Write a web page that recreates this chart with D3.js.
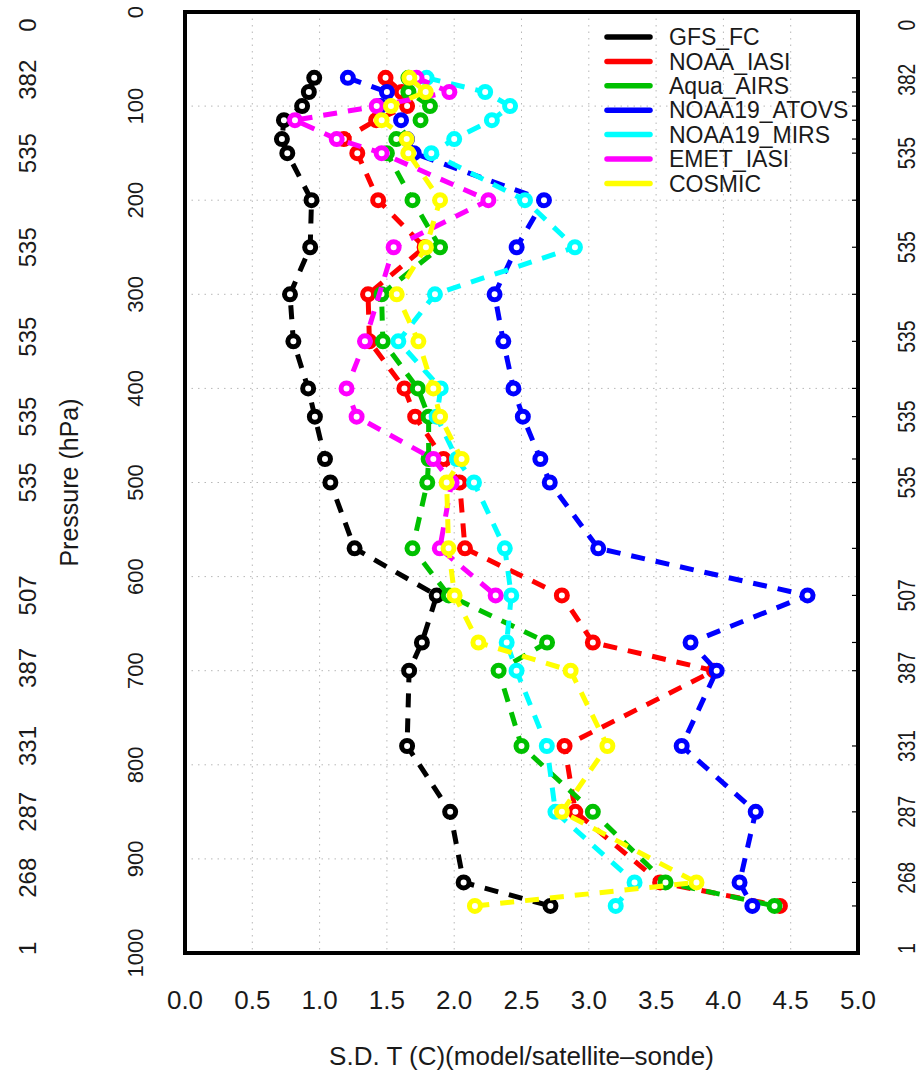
<!DOCTYPE html>
<html>
<head>
<meta charset="utf-8">
<script src="https://cdn.jsdelivr.net/npm/d3@7/dist/d3.min.js"></script>
<style>
  html, body { margin: 0; padding: 0; background: #fff; }
  svg { display: block; }
  text { font-family: "Liberation Sans", Arial, Helvetica, sans-serif; fill: #1a1a1a; }
</style>
</head>
<body>
<svg id="chart" width="922" height="1074"></svg>
<script>
// Pressure levels (hPa) at which each profile is reported
const levels = [70, 85, 100, 115, 135, 150, 200, 250, 300, 350, 400, 430, 475, 500, 570, 620, 670, 700, 780, 850, 925, 950];

// Standard deviation of T (C) per level, one array per source
const gfsFc      = [0.96, 0.92, 0.87, 0.735, 0.72, 0.76, 0.94, 0.93, 0.78, 0.805, 0.915, 0.965, 1.04, 1.08, 1.26, 1.87, 1.76, 1.665, 1.65, 1.97, 2.07, 2.715];
const noaaIasi   = [1.49, 1.61, 1.65, 1.42, 1.18, 1.28, 1.435, 1.78, 1.36, 1.37, 1.63, 1.71, 1.92, 2.04, 2.08, 2.80, 3.03, 3.93, 2.82, 2.90, 3.53, 4.42];
const aquaAirs   = [1.66, 1.66, 1.82, 1.75, 1.57, 1.50, 1.69, 1.895, 1.46, 1.47, 1.73, 1.81, 1.81, 1.80, 1.69, 1.96, 2.69, 2.33, 2.50, 3.03, 3.57, 4.38];
const noaa19Atovs= [1.21, 1.50, 1.45, 1.605, 1.65, 1.70, 2.667, 2.464, 2.30, 2.365, 2.44, 2.51, 2.64, 2.71, 3.07, 4.625, 3.756, 3.95, 3.69, 4.24, 4.12, 4.215];
const noaa19Mirs = [1.795, 2.23, 2.415, 2.28, 2.00, 1.83, 2.526, 2.897, 1.857, 1.585, 1.90, 1.87, 2.02, 2.147, 2.376, 2.424, 2.39, 2.463, 2.688, 2.752, 3.34, 3.20];
const emetIasi   = [1.72, 1.964, 1.424, 0.817, 1.127, 1.461, 2.254, 1.55, null, 1.337, 1.20, 1.275, 1.845, 1.981, 1.893, 2.308, null, null, null, null, null, null];
const cosmic     = [1.667, 1.788, 1.53, 1.461, 1.647, 1.659, 1.895, 1.79, 1.573, 1.734, 1.845, 1.895, 2.055, 1.944, 1.958, 2.003, 2.18, 2.865, 3.138, 2.80, 3.80, 2.154];

const seriesNames  = ["GFS_FC", "NOAA_IASI", "Aqua_AIRS", "NOAA19_ATOVS", "NOAA19_MIRS", "EMET_IASI", "COSMIC"];
const seriesValues = [gfsFc, noaaIasi, aquaAirs, noaa19Atovs, noaa19Mirs, emetIasi, cosmic];
const seriesColors = ["#000000", "#ff0000", "#00c000", "#0000ff", "#00ffff", "#ff00ff", "#ffff00"];

// Axis ticks
const xTicks = [0, 0.5, 1, 1.5, 2, 2.5, 3, 3.5, 4, 4.5, 5];
const pTicks = [0, 100, 200, 300, 400, 500, 600, 700, 800, 900, 1000];

// Sonde sample counts and the pressure where each count is reported
const sampleCounts = ["0", "382", "535", "535", "535", "535", "535", "507", "387", "331", "287", "268", "1"];
const countLevels  = [14, 72, 150, 250, 345, 430, 500, 620, 697, 780, 850, 920, 995];

const svg = d3.select("#chart");
const W = 922, H = 1074;
const plot = { left: 185, right: 858, top: 12, bottom: 953 };

svg.append("rect").attr("width", W).attr("height", H).attr("fill", "#fff");

const x = d3.scaleLinear().domain([0, 5]).range([plot.left, plot.right]);
const y = d3.scaleLinear().domain([0, 1000]).range([plot.top, plot.bottom]);

// Dotted grid
const grid = svg.append("g").attr("stroke", "#b8b8b8").attr("stroke-width", 1)
  .attr("stroke-dasharray", "1.5,5");
grid.selectAll("line.v").data(xTicks.slice(1, -1)).join("line")
  .attr("x1", d => x(d)).attr("x2", d => x(d))
  .attr("y1", plot.top).attr("y2", plot.bottom);
grid.selectAll("line.h").data(pTicks.slice(1, -1)).join("line")
  .attr("x1", plot.left).attr("x2", plot.right)
  .attr("y1", d => y(d)).attr("y2", d => y(d));

// Small level ticks on the right frame
svg.append("g").selectAll("line").data(levels).join("line")
  .attr("x1", plot.right - 6).attr("x2", plot.right)
  .attr("y1", d => y(d)).attr("y2", d => y(d))
  .attr("stroke", "#000").attr("stroke-width", 1.2);

// Profiles
const line = d3.line().x(d => x(d.v)).y(d => y(d.p));
seriesValues.forEach((vals, i) => {
  const pts = levels.map((p, k) => ({ p, v: vals[k] })).filter(d => d.v != null);
  const g = svg.append("g");
  g.append("path").datum(pts)
    .attr("d", line)
    .attr("fill", "none")
    .attr("stroke", seriesColors[i])
    .attr("stroke-width", 5)
    .attr("stroke-dasharray", "14,11");
  g.selectAll("circle").data(pts).join("circle")
    .attr("cx", d => x(d.v)).attr("cy", d => y(d.p))
    .attr("r", 5.5)
    .attr("fill", "#fff")
    .attr("stroke", seriesColors[i])
    .attr("stroke-width", 5);
});

// Frame
svg.append("rect")
  .attr("x", plot.left).attr("y", plot.top)
  .attr("width", plot.right - plot.left).attr("height", plot.bottom - plot.top)
  .attr("fill", "none").attr("stroke", "#000").attr("stroke-width", 4);

// X tick labels
svg.append("g").selectAll("text").data(xTicks).join("text")
  .attr("x", d => x(d)).attr("y", 1009)
  .attr("text-anchor", "middle")
  .attr("font-size", 26)
  .text(d => d.toFixed(1));

svg.append("text")
  .attr("x", (plot.left + plot.right) / 2).attr("y", 1065)
  .attr("text-anchor", "middle").attr("font-size", 26)
  .text("S.D. T (C)(model/satellite\u2013sonde)");

// Pressure tick labels (rotated)
svg.append("g").selectAll("text").data(pTicks).join("text")
  .attr("transform", d => `translate(135,${y(d)}) rotate(-90)`)
  .attr("text-anchor", "middle").attr("dy", "0.36em")
  .attr("font-size", 22)
  .text(d => d);

svg.append("text")
  .attr("transform", `translate(69,${(plot.top + plot.bottom) / 2}) rotate(-90)`)
  .attr("text-anchor", "middle").attr("dy", "0.36em")
  .attr("font-size", 25)
  .text("Pressure (hPa)");

// Sample counts, left and right
svg.append("g").selectAll("text").data(sampleCounts).join("text")
  .attr("transform", (d, i) => `translate(27,${y(countLevels[i])}) rotate(-90)`)
  .attr("text-anchor", "middle").attr("dy", "0.36em")
  .attr("font-size", 24)
  .text(d => d);

svg.append("g").selectAll("text").data(sampleCounts).join("text")
  .attr("transform", (d, i) => `translate(906,${y(countLevels[i])}) rotate(-90) scale(0.8,1)`)
  .attr("text-anchor", "middle").attr("dy", "0.36em")
  .attr("font-size", 24)
  .text(d => d);

// Legend
const legend = svg.append("g");
seriesNames.forEach((name, i) => {
  const ly = 37 + i * 24.4;
  legend.append("line")
    .attr("x1", 607).attr("x2", 650).attr("y1", ly).attr("y2", ly)
    .attr("stroke", seriesColors[i]).attr("stroke-width", 5.5)
    .attr("stroke-linecap", "round");
  legend.append("text")
    .attr("x", 669).attr("y", ly).attr("dy", "0.36em")
    .attr("font-size", 23)
    .text(name);
});
</script>
</body>
</html>
